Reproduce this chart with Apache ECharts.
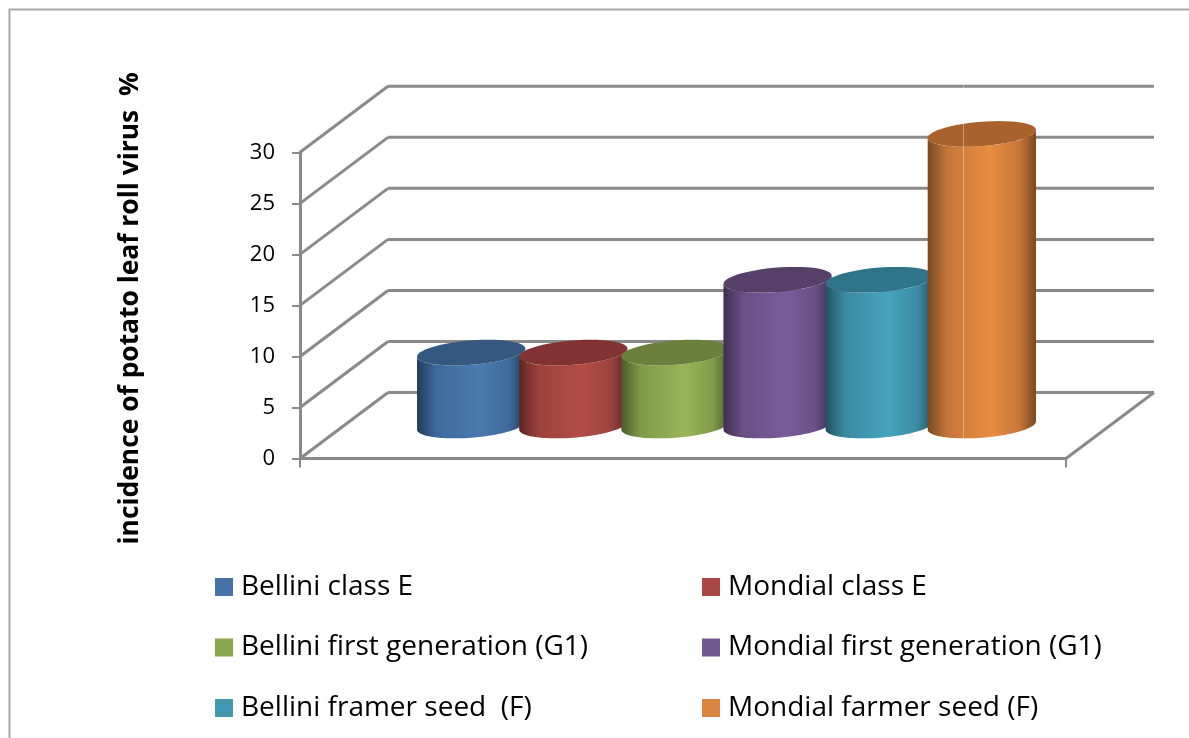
<!DOCTYPE html>
<html>
<head>
<meta charset="utf-8">
<style>
  html, body { margin: 0; padding: 0; background: #fff; }
  #chart { width: 1189px; height: 738px; }
</style>
<script src="https://cdn.jsdelivr.net/npm/echarts@6/dist/echarts.min.js"></script>
</head>
<body>
<div id="chart"></div>
<script>
const seriesNames = ['Bellini class E', 'Mondial class E', 'Bellini first generation (G1)', 'Mondial first generation (G1)', 'Bellini framer seed  (F)', 'Mondial farmer seed (F)'];
const seriesValues = [7.14, 7.14, 7.14, 14.28, 14.28, 28.57];
const yTicks = [0, 5, 10, 15, 20, 25, 30];
const flatColors = ['#4572a7', '#aa4643', '#89a54e', '#71588f', '#4198af', '#db843d'];
const topColors = ['#34587f', '#813232', '#6a803c', '#564068', '#2f7488', '#a9622c'];
const edgeColors = ['#243c5c', '#5c2624', '#4b5c2a', '#3f2e52', '#1f5363', '#7a4820'];
const midColors = ['#3f6a9b', '#9c423e', '#7f9a48', '#694f85', '#3b8aa1', '#c4763a'];
const peakColors = ['#4a7ab1', '#b34d48', '#98b656', '#7a5c9b', '#47a3be', '#e88d41'];

// oblique 3d projection of the floor
const depthX = 88;
const depthY = 66;
const GRID_COLOR = '#8a8a8a';
const FONT = 'Open Sans';

function ellipsePoints(cx, cy, a, bx, by, from, to) {
  const pts = [];
  const n = 48;
  for (let i = 0; i <= n; i++) {
    const t = from + (to - from) * i / n;
    pts.push([cx + a * Math.cos(t) + bx * Math.sin(t), cy - by * Math.sin(t)]);
  }
  return pts;
}

function renderCylinder(index) {
  return function (params, api) {
    const base = api.coord([0, 0]);
    const head = api.coord([0, api.value(1)]);
    // one category, 6 bars + 1.5 bar of gap
    const slot = api.size([1, 0])[0] / 7.5;
    const halfW = slot * 0.53;
    const depth = 0.195;
    const bx = depth * depthX;
    const by = depth * depthY;
    const a = Math.sqrt(halfW * halfW - bx * bx);
    const t0 = Math.atan2(bx, a);
    const cx = base[0] + (index - 2.5) * slot + depthX / 2 - 0.5;
    const yBase = base[1] - depthY / 2;
    const yTop = head[1] - depthY / 2;
    const bottomArc = ellipsePoints(cx, yBase, a, bx, by, t0, t0 - Math.PI);
    const topArc = ellipsePoints(cx, yTop, a, bx, by, t0 - Math.PI, t0);
    return {
      type: 'group',
      children: [
        {
          type: 'polygon',
          shape: { points: bottomArc.concat(topArc) },
          style: {
            fill: new echarts.graphic.LinearGradient(0, 0, 1, 0, [
              { offset: 0, color: edgeColors[index] },
              { offset: 0.18, color: midColors[index] },
              { offset: 0.58, color: peakColors[index] },
              { offset: 0.85, color: midColors[index] },
              { offset: 1, color: edgeColors[index] }
            ])
          }
        },
        {
          type: 'polygon',
          shape: { points: ellipsePoints(cx, yTop, a, bx, by, 0, Math.PI * 2) },
          style: { fill: topColors[index] }
        }
      ]
    };
  };
}

// side wall and back wall lines
function renderWalls(params, api) {
  const tick = api.value(1);
  const front = api.coord([0, tick]);
  const width = api.size([1, 0])[0];
  const lineStyle = { stroke: GRID_COLOR, lineWidth: 3, fill: null };
  const backX = front[0] - width / 2 + depthX;
  const backY = front[1] - depthY;
  const children = [
    { type: 'line', shape: { x1: front[0] - width / 2, y1: front[1], x2: backX, y2: backY }, style: lineStyle },
    { type: 'line', shape: { x1: backX, y1: backY, x2: backX + width, y2: backY }, style: lineStyle }
  ];
  if (tick === 0) {
    children.push({ type: 'line', shape: { x1: front[0] + width / 2, y1: front[1], x2: backX + width, y2: backY }, style: lineStyle });
  }
  return { type: 'group', children: children };
}

const legendText = { fontFamily: FONT, fontSize: 28, color: '#000', lineHeight: 32, padding: [0, 0, 0, 3] };
const series = [{
  name: 'walls',
  type: 'custom',
  silent: true,
  renderItem: renderWalls,
  data: yTicks.map(t => [0, t]),
  z: 1
}];
seriesNames.forEach((name, i) => {
  series.push({
    name: name,
    type: 'custom',
    renderItem: renderCylinder(i),
    itemStyle: { color: flatColors[i] },
    data: [[0, seriesValues[i]]],
    z: 2 + i
  });
});

const chart = echarts.init(document.getElementById('chart'), null, { renderer: 'canvas' });
chart.setOption({
  animation: false,
  backgroundColor: '#fff',
  textStyle: { fontFamily: FONT },
  graphic: [
    {
      type: 'rect',
      shape: { x: 9.5, y: 9.5, width: 1400, height: 1000 },
      style: { fill: null, stroke: '#a6a6a6', lineWidth: 2 },
      silent: true
    },
    {
      // faint seam that runs through the plot in the source image
      type: 'line',
      shape: { x1: 963.5, y1: 85, x2: 963.5, y2: 440 },
      style: { stroke: 'rgba(255,255,255,0.35)', lineWidth: 1 },
      silent: true,
      z: 100
    }
  ],
  grid: { left: 300, top: 152.3, width: 766, height: 306.2 },
  xAxis: {
    type: 'category',
    data: [''],
    axisLine: { lineStyle: { color: GRID_COLOR, width: 3 } },
    axisTick: { show: true, length: 9, lineStyle: { color: GRID_COLOR, width: 2 } },
    axisLabel: { show: false }
  },
  yAxis: {
    type: 'value',
    min: 0,
    max: 30,
    interval: 5,
    name: 'incidence of potato leaf roll virus  %',
    nameLocation: 'middle',
    nameRotate: 90,
    nameGap: 157,
    nameTextStyle: { fontFamily: FONT, fontSize: 26.4, fontWeight: 'bold', color: '#000', padding: [0, 6, 0, 0] },
    axisLine: { show: true, lineStyle: { color: GRID_COLOR, width: 3 } },
    axisTick: { show: true, length: 8, lineStyle: { color: GRID_COLOR, width: 2 } },
    axisLabel: { fontFamily: FONT, fontSize: 22, color: '#000', margin: 25, padding: [9, 0, 0, 0] },
    splitLine: { show: false }
  },
  legend: [
    {
      orient: 'vertical',
      left: 215,
      top: 571,
      padding: 0,
      itemWidth: 18,
      itemHeight: 18,
      itemGap: 28.5,
      icon: 'rect',
      selectedMode: false,
      textStyle: legendText,
      data: [seriesNames[0], seriesNames[2], seriesNames[4]]
    },
    {
      orient: 'vertical',
      left: 702,
      top: 571,
      padding: 0,
      itemWidth: 18,
      itemHeight: 18,
      itemGap: 28.5,
      icon: 'rect',
      selectedMode: false,
      textStyle: legendText,
      data: [seriesNames[1], seriesNames[3], seriesNames[5]]
    }
  ],
  series: series
});
</script>
</body>
</html>
